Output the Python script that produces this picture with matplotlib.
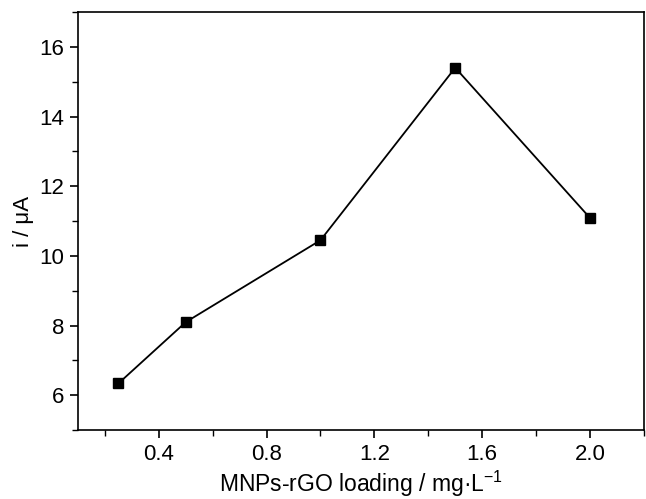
import numpy as np
import matplotlib.pyplot as plt
from matplotlib.ticker import MultipleLocator

# MNPs-rGO loading (mg/L) vs peak current (uA)
loading = [0.25, 0.5, 1.0, 1.5, 2.0]
current = [6.34, 8.10, 10.45, 15.40, 11.09]

plt.rcParams['font.family'] = ['Liberation Sans', 'DejaVu Sans']

fig = plt.figure(figsize=(6.46, 4.99), dpi=100)
ax = fig.add_axes([0.1207, 0.138, 0.876, 0.838])

ax.plot(loading, current, 'k-', lw=1.3, marker='s', ms=6.5, mfc='black', mec='black')

ax.set_xlim(0.1, 2.2)
ax.set_ylim(5, 17)
ax.xaxis.set_minor_locator(MultipleLocator(0.2))
ax.yaxis.set_major_locator(MultipleLocator(2))
ax.yaxis.set_minor_locator(MultipleLocator(1))
ax.set_xticks([0.4, 0.8, 1.2, 1.6, 2.0])
ax.set_xticklabels(['0.4', '0.8', '1.2', '1.6', '2.0'])

ax.tick_params(which='major', direction='out', length=6, width=1.2, labelsize=16, pad=4,
               top=False, right=False)
ax.tick_params(which='minor', direction='out', length=4, width=1.0, top=False, right=False)
for s in ax.spines.values():
    s.set_linewidth(1.2)

ax.set_xlabel('MNPs-rGO loading / mg·L$^{\\mathregular{-1}}$', fontsize=16.5, labelpad=3)
ax.set_ylabel('i / μA', fontsize=16, labelpad=4)

fig.savefig('out.png', dpi=100)
